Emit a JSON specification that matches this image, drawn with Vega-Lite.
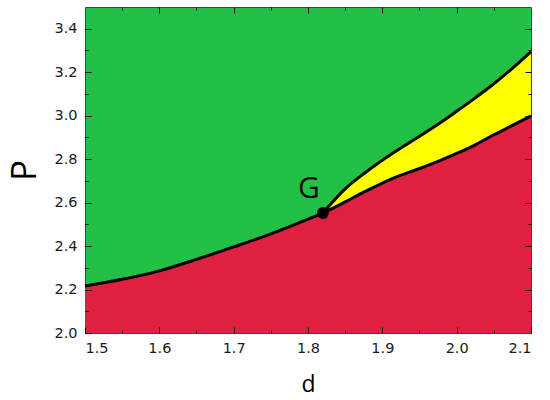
{
  "$schema": "https://vega.github.io/schema/vega-lite/v6.json",
  "width": 446,
  "height": 326,
  "autosize": "none",
  "padding": {"left": 85, "top": 7, "right": 19, "bottom": 67},
  "config": {
    "view": {"fill": "#22C044", "stroke": "#444444", "strokeWidth": 1},
    "axis": {"domain": false, "grid": false, "labelFont": "DejaVu Sans", "labelFontSize": 14.5, "labelColor": "#1a1a1a", "titleColor": "#000000", "titleFontWeight": "normal", "titleFont": "Open Sans", "tickColor": "#000000", "tickWidth": 1}
  },
  "datasets": {
    "curves": [
      {"d": 1.5, "lower": 2.216, "upper": null},
      {"d": 1.55, "lower": 2.247, "upper": null},
      {"d": 1.6, "lower": 2.286, "upper": null},
      {"d": 1.65, "lower": 2.339, "upper": null},
      {"d": 1.7, "lower": 2.396, "upper": null},
      {"d": 1.75, "lower": 2.456, "upper": null},
      {"d": 1.8, "lower": 2.524, "upper": null},
      {"d": 1.82, "lower": 2.552, "upper": 2.552},
      {"d": 1.85, "lower": 2.603, "upper": 2.663},
      {"d": 1.875, "lower": 2.648, "upper": 2.733},
      {"d": 1.9, "lower": 2.69, "upper": 2.795},
      {"d": 1.925, "lower": 2.726, "upper": 2.851},
      {"d": 1.95, "lower": 2.757, "upper": 2.905},
      {"d": 1.975, "lower": 2.79, "upper": 2.96},
      {"d": 2.0, "lower": 2.826, "upper": 3.02},
      {"d": 2.025, "lower": 2.866, "upper": 3.082},
      {"d": 2.05, "lower": 2.912, "upper": 3.147},
      {"d": 2.075, "lower": 2.955, "upper": 3.218},
      {"d": 2.1, "lower": 2.999, "upper": 3.295}
    ],
    "points": [
      {"d": 1.82, "P": 2.552, "label": "G"}
    ]
  },
  "layer": [
    {
      "data": {"name": "curves"},
      "mark": {"type": "area", "color": "#E02040", "interpolate": "monotone", "clip": true},
      "encoding": {
        "x": {"field": "d", "type": "quantitative", "scale": {"domain": [1.5, 2.1], "nice": false, "zero": false},
          "axis": {"orient": "bottom", "title": "d", "titleFontSize": 23, "titlePadding": 19, "zindex": 2, "tickSize": -6, "labelPadding": 14, "values": [1.5, 1.6, 1.7, 1.8, 1.9, 2.0, 2.1], "format": ".1f"}},
        "y": {"field": "lower", "type": "quantitative", "scale": {"domain": [2.0, 3.5], "nice": false, "zero": false},
          "axis": {"orient": "left", "title": "P", "titleFontSize": 35, "titlePadding": 11, "zindex": 2, "tickSize": -6, "labelPadding": 14, "values": [2.0, 2.2, 2.4, 2.6, 2.8, 3.0, 3.2, 3.4], "format": ".1f"}},
        "y2": {"datum": 2.0}
      }
    },
    {
      "data": {"name": "curves"},
      "transform": [{"filter": "datum.upper != null"}],
      "mark": {"type": "area", "color": "#FFFF00", "interpolate": "monotone"},
      "encoding": {
        "x": {"field": "d", "type": "quantitative", "axis": null},
        "y": {"field": "upper", "type": "quantitative", "axis": null},
        "y2": {"field": "lower"}
      }
    },
    {
      "data": {"name": "curves"},
      "mark": {"type": "line", "color": "#000000", "strokeWidth": 3, "interpolate": "monotone"},
      "encoding": {
        "x": {"field": "d", "type": "quantitative",
          "axis": {"orient": "bottom", "title": null, "zindex": 2, "labels": false, "offset": -3, "tickSize": 3, "values": [1.55, 1.65, 1.75, 1.85, 1.95, 2.05]}},
        "y": {"field": "lower", "type": "quantitative",
          "axis": {"orient": "left", "title": null, "zindex": 2, "labels": false, "offset": -3, "tickSize": 3, "values": [2.1, 2.3, 2.5, 2.7, 2.9, 3.1, 3.3]}}
      }
    },
    {
      "data": {"name": "curves"},
      "transform": [{"filter": "datum.upper != null"}],
      "mark": {"type": "line", "color": "#000000", "strokeWidth": 3, "interpolate": "monotone"},
      "encoding": {
        "x": {"field": "d", "type": "quantitative",
          "axis": {"orient": "top", "title": null, "zindex": 2, "labels": false, "tickSize": -6, "values": [1.6, 1.7, 1.8, 1.9, 2.0]}},
        "y": {"field": "upper", "type": "quantitative",
          "axis": {"orient": "right", "title": null, "zindex": 2, "labels": false, "tickSize": -6, "values": [2.2, 2.4, 2.6, 2.8, 3.0, 3.2, 3.4]}}
      }
    },
    {
      "data": {"name": "points"},
      "mark": {"type": "circle", "color": "#000000", "opacity": 1, "size": 140},
      "encoding": {
        "x": {"field": "d", "type": "quantitative",
          "axis": {"orient": "top", "title": null, "zindex": 2, "labels": false, "tickSize": -3, "values": [1.55, 1.65, 1.75, 1.85, 1.95, 2.05]}},
        "y": {"field": "P", "type": "quantitative",
          "axis": {"orient": "right", "title": null, "zindex": 2, "labels": false, "tickSize": -3, "values": [2.1, 2.3, 2.5, 2.7, 2.9, 3.1, 3.3]}}
      }
    },
    {
      "data": {"name": "points"},
      "mark": {"type": "text", "color": "#000000", "font": "Open Sans", "fontSize": 30, "dx": -14, "dy": -24, "align": "center", "baseline": "middle"},
      "encoding": {
        "x": {"field": "d", "type": "quantitative", "axis": null},
        "y": {"field": "P", "type": "quantitative", "axis": null},
        "text": {"field": "label"}
      }
    }
  ],
  "resolve": {"axis": {"x": "independent", "y": "independent"}}
}
